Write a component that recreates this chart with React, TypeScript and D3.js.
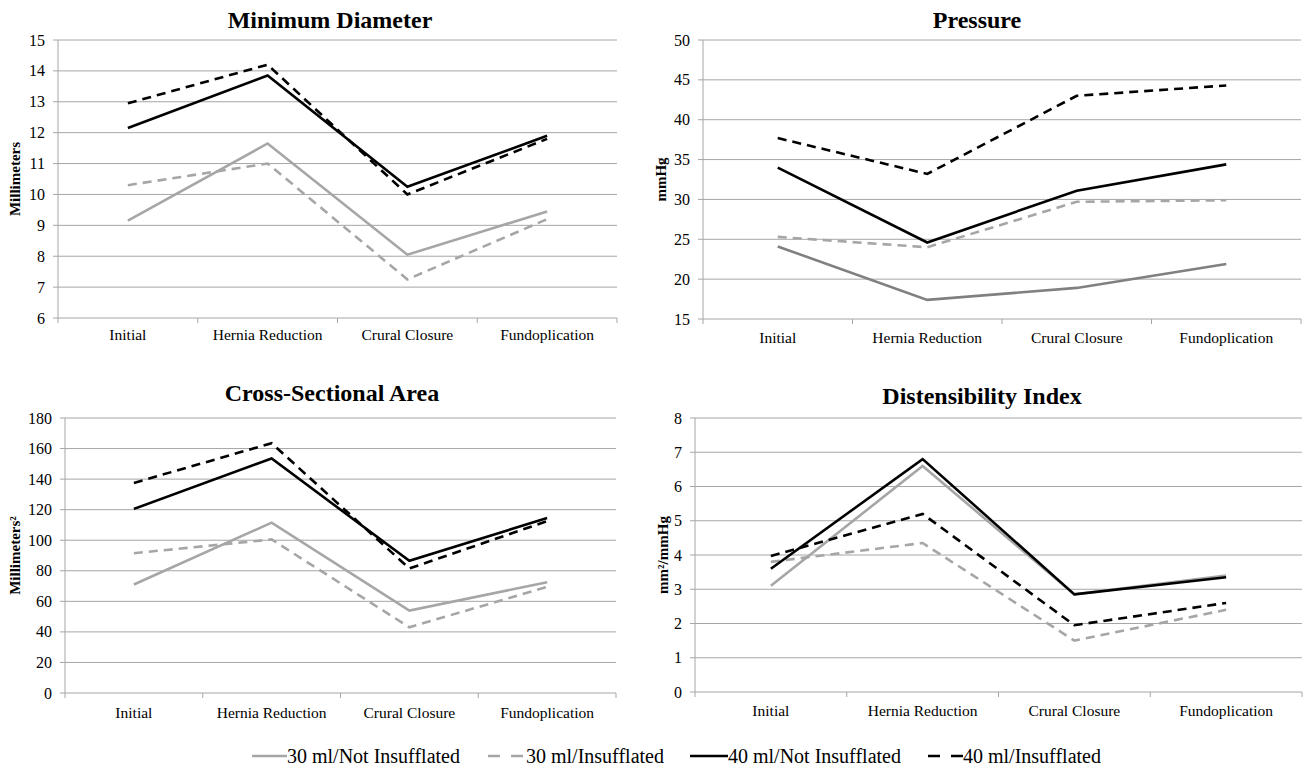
import * as d3 from "d3";

// categories along the x axis
const stages = ["Initial", "Hernia Reduction", "Crural Closure", "Fundoplication"];

// series names (legend)
const seriesNames = [
  "30 ml/Not Insufflated",
  "30 ml/Insufflated",
  "40 ml/Not Insufflated",
  "40 ml/Insufflated",
];

// Minimum Diameter (mm)
const diam30Not = [9.15, 11.65, 8.05, 9.45];
const diam30Ins = [10.3, 11.0, 7.25, 9.2];
const diam40Not = [12.15, 13.85, 10.25, 11.9];
const diam40Ins = [12.95, 14.2, 10.0, 11.8];

// Pressure (mmHg)
const pres30Not = [24.1, 17.4, 18.9, 21.9];
const pres30Ins = [25.3, 24.0, 29.7, 29.9];
const pres40Not = [34.0, 24.6, 31.1, 34.4];
const pres40Ins = [37.7, 33.2, 43.0, 44.3];

// Cross-Sectional Area (mm2)
const csa30Not = [71, 111.5, 54, 72.5];
const csa30Ins = [91.5, 100.5, 43, 69.5];
const csa40Not = [120.5, 153.5, 86.5, 114.5];
const csa40Ins = [137.5, 163.5, 81.5, 112.5];

// Distensibility Index (mm2/mmHg)
const di30Not = [3.1, 6.6, 2.85, 3.4];
const di30Ins = [3.8, 4.35, 1.5, 2.4];
const di40Not = [3.6, 6.8, 2.85, 3.35];
const di40Ins = [3.97, 5.2, 1.95, 2.6];

const FONT = "Liberation Serif, DejaVu Serif, serif";
const GRID = "#a6a6a6";
const LIGHT = "#a6a6a6";
const DARK = "#000000";

const seriesStyle = [
  { color: LIGHT, dash: null },
  { color: LIGHT, dash: "9,6" },
  { color: DARK, dash: null },
  { color: DARK, dash: "9,6" },
];

type PanelProps = {
  title: string;
  yLabel: string;
  series: number[][];
  domain: [number, number];
  step: number;
  left: number;
  right: number;
  top: number;
  bottom: number;
  titleX: number;
  titleY: number;
  labelX: number;
  catY: number;
  firstColor?: string;
};

function Panel(p: PanelProps) {
  const x = d3.scaleBand().domain(stages).range([p.left, p.right]);
  const y = d3.scaleLinear().domain(p.domain).range([p.bottom, p.top]);
  const ticks = d3.range(p.domain[0], p.domain[1] + p.step / 2, p.step);
  const line = d3
    .line<number>()
    .x((_, i) => (x(stages[i]) as number) + x.bandwidth() / 2)
    .y((d) => y(d));
  const bounds = stages.map((s) => x(s) as number).concat([p.right]);

  return (
    <g>
      <text x={p.titleX} y={p.titleY} textAnchor="middle" fontWeight="bold" fontSize={24}>
        {p.title}
      </text>
      {ticks.map((t) => (
        <g key={t}>
          <line x1={p.left} x2={p.right} y1={y(t)} y2={y(t)} stroke={GRID} strokeWidth={1} />
          <line x1={p.left - 5} x2={p.left} y1={y(t)} y2={y(t)} stroke={GRID} strokeWidth={1} />
          <text x={p.left - 13} y={y(t)} dy="0.35em" textAnchor="end" fontSize={16}>
            {t}
          </text>
        </g>
      ))}
      <line x1={p.left} x2={p.left} y1={p.top} y2={p.bottom} stroke={GRID} strokeWidth={1} />
      {bounds.map((b, i) => (
        <line key={i} x1={b} x2={b} y1={p.bottom} y2={p.bottom + 5} stroke={GRID} strokeWidth={1} />
      ))}
      {stages.map((s) => (
        <text
          key={s}
          x={(x(s) as number) + x.bandwidth() / 2}
          y={p.catY}
          textAnchor="middle"
          fontSize={15.5}
        >
          {s}
        </text>
      ))}
      <text
        transform={`translate(${p.labelX},${(p.top + p.bottom) / 2}) rotate(-90)`}
        textAnchor="middle"
        fontWeight="bold"
        fontSize={15}
      >
        {p.yLabel}
      </text>
      {p.series.map((vals, i) => (
        <path
          key={i}
          d={line(vals) || ""}
          fill="none"
          stroke={i === 0 && p.firstColor ? p.firstColor : seriesStyle[i].color}
          strokeWidth={2.6}
          strokeDasharray={seriesStyle[i].dash || undefined}
          strokeLinejoin="miter"
        />
      ))}
    </g>
  );
}

// legend item start positions (line start) and sample lengths
const legendX = [252, 488, 690, 928];
const legendLen = [35, 38, 38, 35];

export default function App() {
  return (
    <svg
      width={1309}
      height={769}
      style={{ position: "absolute", left: 0, top: 0, background: "#fff", fontFamily: FONT }}
    >
      <rect width={1309} height={769} fill="#fff" />
      <Panel
        title="Minimum Diameter"
        yLabel="Millimeters"
        series={[diam30Not, diam30Ins, diam40Not, diam40Ins]}
        domain={[6, 15]}
        step={1}
        left={58}
        right={617}
        top={40}
        bottom={318}
        titleX={330}
        titleY={28}
        labelX={20}
        catY={340}
      />
      <Panel
        title="Pressure"
        yLabel="mmHg"
        series={[pres30Not, pres30Ins, pres40Not, pres40Ins]}
        domain={[15, 50]}
        step={5}
        left={703}
        right={1301}
        top={40}
        bottom={319}
        titleX={977}
        titleY={28}
        labelX={666}
        catY={343}
        firstColor="#808080"
      />
      <Panel
        title="Cross-Sectional Area"
        yLabel="Millimeters²"
        series={[csa30Not, csa30Ins, csa40Not, csa40Ins]}
        domain={[0, 180]}
        step={20}
        left={65}
        right={616}
        top={418}
        bottom={693}
        titleX={332}
        titleY={401}
        labelX={20}
        catY={718}
      />
      <Panel
        title="Distensibility Index"
        yLabel="mm²/mmHg"
        series={[di30Not, di30Ins, di40Not, di40Ins]}
        domain={[0, 8]}
        step={1}
        left={695}
        right={1302}
        top={418}
        bottom={692}
        titleX={982}
        titleY={404}
        labelX={668}
        catY={716}
      />
      {seriesNames.map((name, i) => (
        <g key={name}>
          <line
            x1={legendX[i]}
            x2={legendX[i] + legendLen[i]}
            y1={756}
            y2={756}
            stroke={seriesStyle[i].color}
            strokeWidth={2.6}
            strokeDasharray={seriesStyle[i].dash ? "12,11" : undefined}
          />
          <text x={legendX[i] + legendLen[i]} y={763} fontSize={20}>
            {name}
          </text>
        </g>
      ))}
    </svg>
  );
}
